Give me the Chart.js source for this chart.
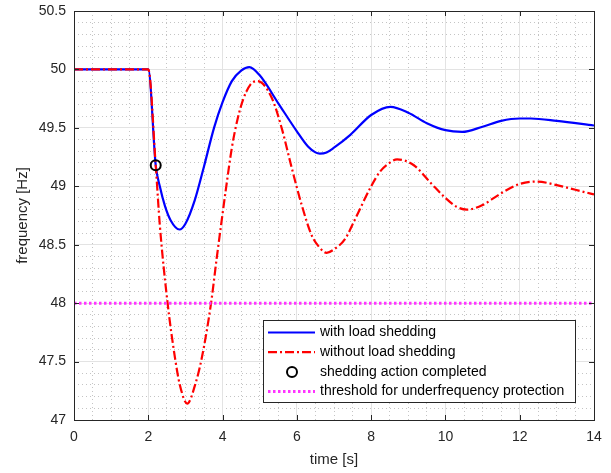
<!DOCTYPE html>
<html>
<head>
<meta charset="utf-8">
<script src="https://cdn.jsdelivr.net/npm/chart.js@4"></script>
<style>
  html, body { margin:0; padding:0; background:#fff; }
  #wrap { width:611px; height:473px; }
</style>
</head>
<body>
<div id="wrap"><canvas id="freqChart" width="611" height="473"></canvas></div>
<script>
// values
const withTime = [0, 2.0, 2.2, 2.31, 2.45, 2.6, 2.84, 3.0, 3.25, 3.5, 3.77, 4.0, 4.25, 4.5, 4.72, 5.0, 5.5, 6.0, 6.3, 6.5, 6.62, 6.8, 7.0, 7.44, 8.0, 8.52, 9.0, 9.5, 10.0, 10.45, 11.0, 11.5, 12.0, 12.3, 13.0, 14];
const withFreq = [50, 50, 49.18, 49.0, 48.83, 48.71, 48.63, 48.68, 48.88, 49.17, 49.5, 49.72, 49.9, 49.99, 50.02, 49.95, 49.71, 49.47, 49.34, 49.29, 49.28, 49.29, 49.33, 49.44, 49.61, 49.68, 49.63, 49.54, 49.48, 49.465, 49.51, 49.56, 49.58, 49.58, 49.56, 49.52];

const withoutTime = [0, 2.0, 2.2, 2.31, 2.52, 2.72, 2.85, 3.05, 3.26, 3.44, 3.69, 3.84, 3.96, 4.1, 4.25, 4.4, 4.55, 4.75, 4.94, 5.32, 5.59, 5.86, 6.13, 6.4, 6.6, 6.8, 7.0, 7.3, 7.57, 8.0, 8.25, 8.45, 8.7, 9.15, 9.6, 10.0, 10.3, 10.58, 11.0, 11.5, 12.0, 12.47, 13.0, 13.5, 14];
const withoutFreq = [50, 50, 49.18, 48.67, 48.0, 47.53, 47.30, 47.14, 47.30, 47.53, 48.0, 48.38, 48.67, 49.0, 49.33, 49.57, 49.74, 49.87, 49.90, 49.76, 49.50, 49.16, 48.84, 48.58, 48.48, 48.43, 48.46, 48.55, 48.72, 49.0, 49.13, 49.19, 49.23, 49.18, 49.03, 48.90, 48.825, 48.80, 48.84, 48.94, 49.02, 49.04, 49.01, 48.97, 48.93];

const sheddingTime = [2.2];
const sheddingFreq = [49.18];

const thresholdTime = [0, 14];
const thresholdFreq = [48, 48];

const legendLabels = ['with load shedding', 'without load shedding', 'shedding action completed', 'threshold for underfrequency protection'];

const xTicks = [0, 2, 4, 6, 8, 10, 12, 14];
const yTicks = [47, 47.5, 48, 48.5, 49, 49.5, 50, 50.5];

const FONT = 'Liberation Sans, Arial, Helvetica, sans-serif';
const AXIS = '#262626';

function pts(ts, vs){ return ts.map((t,i)=>({x:t, y:vs[i]})); }
function isMult(v, step){ const r = v/step; return Math.abs(r - Math.round(r)) < 1e-6; }

// box + inward ticks (matlab style) and the legend inside the axes
const framePlugin = {
  id:'frame',
  afterDatasetsDraw(chart){
    const {ctx, chartArea:a, scales} = chart;
    ctx.save();
    ctx.strokeStyle = AXIS;
    ctx.lineWidth = 1;
    ctx.beginPath();
    xTicks.forEach(v=>{
      const px = Math.round(scales.x.getPixelForValue(v)) + 0.5;
      ctx.moveTo(px, a.bottom); ctx.lineTo(px, a.bottom-5);
      ctx.moveTo(px, a.top); ctx.lineTo(px, a.top+5);
    });
    yTicks.forEach(v=>{
      const py = Math.round(scales.y.getPixelForValue(v)) + 0.5;
      ctx.moveTo(a.left, py); ctx.lineTo(a.left+5, py);
      ctx.moveTo(a.right, py); ctx.lineTo(a.right-5, py);
    });
    ctx.stroke();
    ctx.strokeRect(Math.round(a.left)+0.5, Math.round(a.top)+0.5, Math.round(a.right-a.left), Math.round(a.bottom-a.top));
    ctx.restore();
  },
  afterDraw(chart){
    const {ctx} = chart;
    const bx = 263, by = 320, bw = 312, bh = 82;
    ctx.save();
    ctx.fillStyle = '#fff';
    ctx.fillRect(bx, by, bw, bh);
    ctx.strokeStyle = AXIS;
    ctx.lineWidth = 1;
    ctx.strokeRect(bx+0.5, by+0.5, bw, bh);
    ctx.font = '14px ' + FONT;
    ctx.textBaseline = 'middle';
    const ds = chart.data.datasets;
    [0,1,2,3].forEach((di,i)=>{
      const d = ds[di];
      const yy = by + 12.5 + i*19.7;
      ctx.beginPath();
      if (di === 2) {
        ctx.strokeStyle = d.borderColor;
        ctx.lineWidth = d.pointBorderWidth;
        ctx.arc(292, yy, d.pointRadius, 0, Math.PI*2);
      } else {
        ctx.strokeStyle = d.borderColor;
        ctx.lineWidth = d.borderWidth;
        ctx.setLineDash(d.borderDash || []);
        ctx.moveTo(268, yy); ctx.lineTo(315, yy);
      }
      ctx.stroke();
      ctx.setLineDash([]);
      ctx.fillStyle = '#000';
      ctx.fillText(legendLabels[di], 320, yy);
    });
    ctx.restore();
  }
};

const ctx = document.getElementById('freqChart').getContext('2d');
const freqChart = new Chart(ctx, {
  type:'line',
  data:{
    datasets:[
      { label:legendLabels[0], data:pts(withTime, withFreq), borderColor:'#0000ff', borderWidth:2.2,
        pointRadius:0, cubicInterpolationMode:'monotone', order:3 },
      { label:legendLabels[1], data:pts(withoutTime, withoutFreq), borderColor:'#ff0000', borderWidth:2.2,
        borderDash:[9,3,2,3], pointRadius:0, cubicInterpolationMode:'monotone', order:2 },
      { label:legendLabels[2], data:pts(sheddingTime, sheddingFreq), borderColor:'#000000', backgroundColor:'transparent',
        showLine:false, pointRadius:5, pointBorderWidth:2, pointStyle:'circle', order:0 },
      { label:legendLabels[3], data:pts(thresholdTime, thresholdFreq), borderColor:'#ff33ff', borderWidth:3,
        borderDash:[2.5,2.5], pointRadius:0, order:1 }
    ]
  },
  options:{
    responsive:false,
    animation:false,
    layout:{ padding:{ left:14, right:17, top:11, bottom:0 } },
    plugins:{ legend:{ display:false }, tooltip:{ enabled:false } },
    scales:{
      xm:{
        type:'linear', position:'bottom', min:0, max:14,
        ticks:{ display:false, stepSize:0.5, autoSkip:false, maxTicksLimit:100 },
        grid:{ drawTicks:false, color:c=>isMult(c.tick.value,2)?'rgba(0,0,0,0)':'#c4c4c4', lineWidth:1 },
        border:{ display:false, dash:[1,3] },
        afterFit:s=>{ s.height = 0; s.paddingLeft = 0; s.paddingRight = 0; }
      },
      ym:{
        type:'linear', position:'left', min:47, max:50.5,
        ticks:{ display:false, stepSize:0.1, autoSkip:false, maxTicksLimit:100 },
        grid:{ drawTicks:false, color:c=>isMult(c.tick.value,0.5)?'rgba(0,0,0,0)':'#c4c4c4', lineWidth:1 },
        border:{ display:false, dash:[1,3] },
        afterFit:s=>{ s.width = 0; s.paddingTop = 0; s.paddingBottom = 0; }
      },
      x:{
        type:'linear', position:'bottom', min:0, max:14,
        ticks:{ stepSize:2, autoSkip:false, color:AXIS, font:{ family:FONT, size:14 }, padding:9, maxRotation:0 },
        grid:{ color:'#e3e3e3', lineWidth:1, drawTicks:false },
        border:{ display:false },
        title:{ display:true, text:'time [s]', color:AXIS, font:{ family:FONT, size:15 }, padding:{ top:1, bottom:4 } },
        afterFit:s=>{ s.height = 53; s.paddingLeft = 0; s.paddingRight = 0; }
      },
      y:{
        type:'linear', position:'left', min:47, max:50.5,
        ticks:{ stepSize:0.5, autoSkip:false, color:AXIS, font:{ family:FONT, size:14 }, padding:8,
                callback:v=>String(Number(v.toFixed(2))) },
        grid:{ color:'#e3e3e3', lineWidth:1, drawTicks:false },
        border:{ display:false },
        title:{ display:true, text:'frequency [Hz]', color:AXIS, font:{ family:FONT, size:15 }, padding:{ top:0, bottom:4 } },
        afterFit:s=>{ s.width = 60; s.paddingTop = 0; s.paddingBottom = 0; }
      }
    }
  },
  plugins:[framePlugin]
});
</script>
</body>
</html>
